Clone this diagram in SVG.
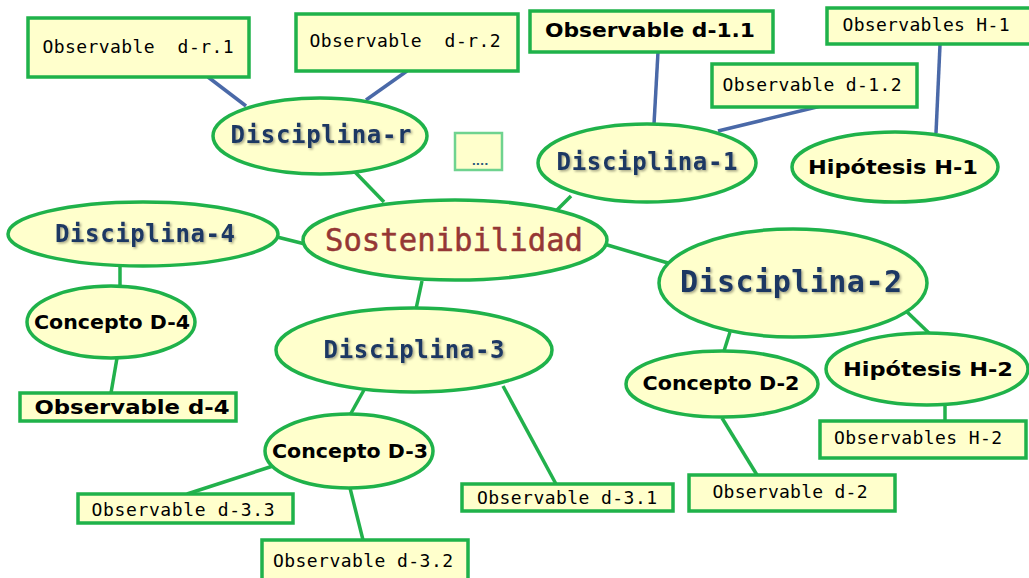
<svg xmlns="http://www.w3.org/2000/svg" width="1029" height="578" viewBox="0 0 1029 578">
<defs>
<filter id="sh" x="-10%" y="-30%" width="120%" height="160%">
<feDropShadow dx="1.5" dy="1.5" stdDeviation="0.8" flood-color="#000" flood-opacity="0.35"/>
</filter>
<style>
.nd{fill:#ffffcc;stroke:#1fb24a;stroke-width:3.5}
.ndl{fill:#ffffcc;stroke:#6fd38f;stroke-width:2.5}
.cg{stroke:#22b14c;stroke-width:3.5;fill:none}
.cb{stroke:#4a69a8;stroke-width:3.5;fill:none}
.disc{font-family:"DejaVu Sans Mono","Liberation Mono",monospace;font-weight:bold;fill:#1f3864;text-anchor:middle;dominant-baseline:central}
.sos{font-family:"DejaVu Sans Mono","Liberation Mono",monospace;fill:#953735;text-anchor:middle;dominant-baseline:central;font-size:32px;stroke:#953735;stroke-width:0.5}
.bs{font-family:"DejaVu Sans","Liberation Sans",sans-serif;font-weight:bold;fill:#000;text-anchor:middle;dominant-baseline:central}
.ms{font-family:"DejaVu Sans Mono","Liberation Mono",monospace;fill:#000;text-anchor:middle;dominant-baseline:central;font-size:18px;white-space:pre}
</style>
</defs>
<rect width="1029" height="578" fill="#fff"/>
<g id="connectors">
<line class="cb" x1="208" y1="77" x2="246" y2="106"/>
<line class="cb" x1="407" y1="71" x2="366" y2="100"/>
<line class="cg" x1="355" y1="172" x2="384" y2="202"/>
<line class="cb" x1="658" y1="52" x2="654" y2="124"/>
<line class="cb" x1="821" y1="106" x2="718" y2="131"/>
<line class="cb" x1="940" y1="45" x2="936" y2="133"/>
<line class="cg" x1="571" y1="196" x2="556" y2="211"/>
<line class="cg" x1="277" y1="237" x2="305" y2="244"/>
<line class="cg" x1="604" y1="244" x2="668" y2="263"/>
<line class="cg" x1="120" y1="266" x2="120" y2="288"/>
<line class="cg" x1="117" y1="358" x2="111" y2="393"/>
<line class="cg" x1="422" y1="281" x2="416" y2="309"/>
<line class="cg" x1="730" y1="332" x2="724" y2="351"/>
<line class="cg" x1="905" y1="310" x2="930" y2="334"/>
<line class="cg" x1="945" y1="404" x2="945" y2="421"/>
<line class="cg" x1="722" y1="418" x2="757" y2="475"/>
<line class="cg" x1="364" y1="390" x2="350" y2="415"/>
<line class="cg" x1="503" y1="386" x2="556" y2="484"/>
<line class="cg" x1="273" y1="466" x2="187" y2="494"/>
<line class="cg" x1="350" y1="488" x2="363" y2="540"/>
</g>
<g id="obs-dr1"><rect class="nd" x="28" y="18" width="221" height="59"/><text class="ms" x="138" y="46" textLength="191" lengthAdjust="spacing">Observable  d-r.1</text></g>
<g id="obs-dr2"><rect class="nd" x="296" y="14" width="222" height="57"/><text class="ms" x="405" y="40" textLength="191" lengthAdjust="spacing">Observable  d-r.2</text></g>
<g id="disc-r"><ellipse class="nd" cx="320" cy="136" rx="107" ry="38"/><text class="disc" x="321" y="135" font-size="24" textLength="181" lengthAdjust="spacing" filter="url(#sh)">Disciplina-r</text></g>
<g id="dots"><rect class="ndl" x="455" y="133" width="47" height="37"/><text x="480" y="161" font-family="DejaVu Sans, sans-serif" font-size="11" font-weight="bold" fill="#2a5a7a" text-anchor="middle" dominant-baseline="central">....</text></g>
<g id="obs-d11"><rect class="nd" x="530" y="11" width="243" height="41"/><text class="bs" x="650" y="30" font-size="20" textLength="210" lengthAdjust="spacingAndGlyphs">Observable d-1.1</text></g>
<g id="obs-d12"><rect class="nd" x="712" y="64" width="205" height="43"/><text class="ms" x="812" y="84" textLength="179" lengthAdjust="spacing">Observable d-1.2</text></g>
<g id="obs-h1"><rect class="nd" x="827" y="8" width="210" height="36"/><text class="ms" x="926" y="24" textLength="167" lengthAdjust="spacing">Observables H-1</text></g>
<g id="disc-1"><ellipse class="nd" cx="647" cy="163" rx="109" ry="39"/><text class="disc" x="647" y="162" font-size="24" textLength="181" lengthAdjust="spacing" filter="url(#sh)">Disciplina-1</text></g>
<g id="hip-h1"><ellipse class="nd" cx="895" cy="167" rx="103" ry="35"/><text class="bs" x="893" y="167" font-size="20" textLength="170" lengthAdjust="spacingAndGlyphs">Hipótesis H-1</text></g>
<g id="disc-4"><ellipse class="nd" cx="143" cy="234" rx="135" ry="32"/><text class="disc" x="145" y="234" font-size="24" textLength="180" lengthAdjust="spacing" filter="url(#sh)">Disciplina-4</text></g>
<g id="sostenibilidad"><ellipse class="nd" cx="455" cy="240" rx="152" ry="40"/><text class="sos" x="454" y="240" textLength="258" lengthAdjust="spacingAndGlyphs">Sostenibilidad</text></g>
<g id="disc-2"><ellipse class="nd" cx="793" cy="283" rx="134" ry="54"/><text class="disc" x="791" y="281" font-size="30" textLength="222" lengthAdjust="spacing" filter="url(#sh)">Disciplina-2</text></g>
<g id="conc-d4"><ellipse class="nd" cx="111" cy="322" rx="84" ry="36"/><text class="bs" x="112" y="322" font-size="19" textLength="156" lengthAdjust="spacingAndGlyphs">Concepto D-4</text></g>
<g id="obs-d4"><rect class="nd" x="20" y="393" width="216" height="28"/><text class="bs" x="132" y="407" font-size="19" textLength="195" lengthAdjust="spacingAndGlyphs">Observable d-4</text></g>
<g id="disc-3"><ellipse class="nd" cx="414" cy="350" rx="138" ry="42"/><text class="disc" x="414" y="350" font-size="24" textLength="181" lengthAdjust="spacing" filter="url(#sh)">Disciplina-3</text></g>
<g id="conc-d2"><ellipse class="nd" cx="722" cy="384" rx="96" ry="33"/><text class="bs" x="721" y="383" font-size="19" textLength="157" lengthAdjust="spacingAndGlyphs">Concepto D-2</text></g>
<g id="hip-h2"><ellipse class="nd" cx="927" cy="369" rx="101" ry="36"/><text class="bs" x="928" y="369" font-size="20" textLength="170" lengthAdjust="spacingAndGlyphs">Hipótesis H-2</text></g>
<g id="obs-h2"><rect class="nd" x="820" y="421" width="206" height="37"/><text class="ms" x="918" y="437" textLength="168" lengthAdjust="spacing">Observables H-2</text></g>
<g id="conc-d3"><ellipse class="nd" cx="349" cy="451" rx="84" ry="37"/><text class="bs" x="350" y="451" font-size="19" textLength="156" lengthAdjust="spacingAndGlyphs">Concepto D-3</text></g>
<g id="obs-d31"><rect class="nd" x="462" y="484" width="211" height="27"/><text class="ms" x="567" y="497" textLength="180" lengthAdjust="spacing">Observable d-3.1</text></g>
<g id="obs-d2"><rect class="nd" x="689" y="475" width="206" height="36"/><text class="ms" x="790" y="491" textLength="155" lengthAdjust="spacing">Observable d-2</text></g>
<g id="obs-d33"><rect class="nd" x="78" y="494" width="215" height="29"/><text class="ms" x="183" y="509" textLength="183" lengthAdjust="spacing">Observable d-3.3</text></g>
<g id="obs-d32"><rect class="nd" x="262" y="540" width="206" height="45"/><text class="ms" x="363" y="560" textLength="180" lengthAdjust="spacing">Observable d-3.2</text></g>
</svg>
